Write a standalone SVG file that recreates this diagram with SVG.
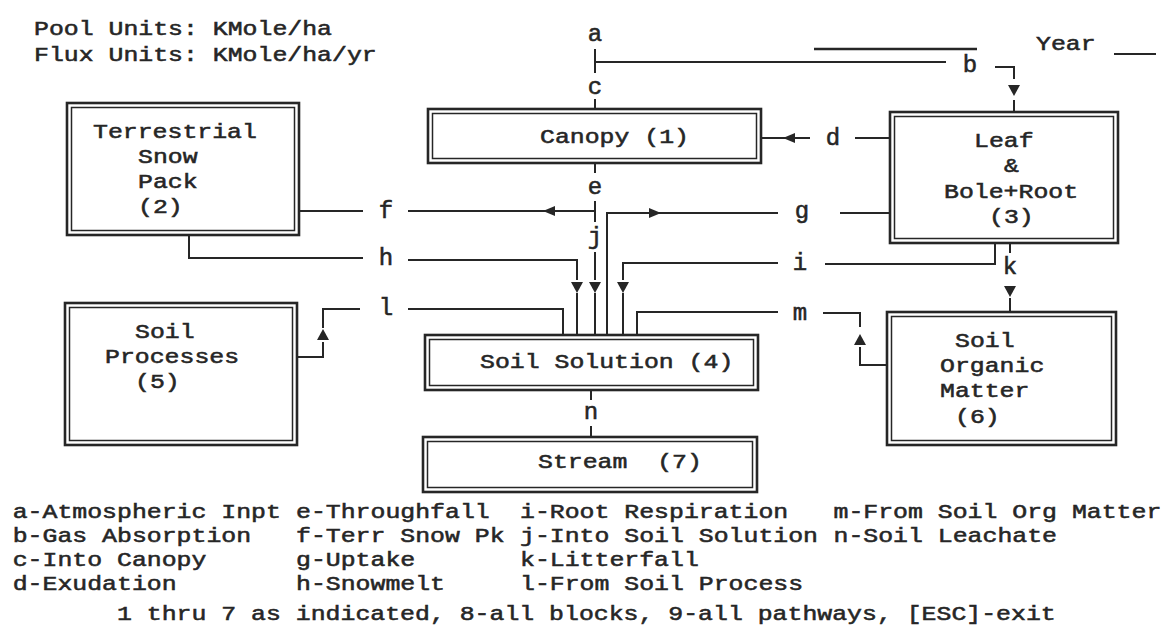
<svg xmlns="http://www.w3.org/2000/svg" width="1167" height="627" viewBox="0 0 1167 627">
<style>
  .t{font-family:"Liberation Mono","Courier New",monospace;font-size:21px;fill:#262626;stroke:#262626;stroke-width:0.55px}
  .m{text-anchor:middle;font-size:24px}
  .ob{fill:none;stroke:#262626;stroke-width:2.6}
  .ib{fill:none;stroke:#262626;stroke-width:1.5}
  .c{fill:none;stroke:#262626;stroke-width:2}
  .ar{fill:#262626}
</style>
<defs>
  <path id="aD" d="M-6,-5 L6,-5 L0,6 Z"/>
  <path id="aU" d="M-6,5 L6,5 L0,-6 Z"/>
  <path id="aL" d="M5,-5 L5,5 L-7,0 Z"/>
  <path id="aR" d="M-5,-5 L-5,5 L7,0 Z"/>
</defs>
<rect width="1167" height="627" fill="#fff"/>

<g id="header">
  <text class="t" x="34" y="35" textLength="298" lengthAdjust="spacingAndGlyphs">Pool Units: KMole/ha</text>
  <text class="t" x="34" y="61" textLength="342.7" lengthAdjust="spacingAndGlyphs">Flux Units: KMole/ha/yr</text>
  <path class="c" d="M814,49 H977" style="stroke-width:2.6"/>
  <text class="t" x="1036" y="50" textLength="59.6" lengthAdjust="spacingAndGlyphs">Year</text>
  <path class="c" d="M1114,54 H1156"/>
</g>

<g id="canopy">
  <rect class="ob" x="428" y="109" width="333" height="54"/>
  <rect class="ib" x="432.5" y="113.5" width="324" height="45"/>
  <text class="t" x="540" y="143" textLength="149" lengthAdjust="spacingAndGlyphs">Canopy (1)</text>
</g>

<g id="snowpack">
  <rect class="ob" x="67" y="103" width="232" height="132"/>
  <rect class="ib" x="71.5" y="107.5" width="223" height="123"/>
  <text class="t" x="93" y="138" textLength="163.9" lengthAdjust="spacingAndGlyphs">Terrestrial</text>
  <text class="t" x="138" y="163" textLength="59.6" lengthAdjust="spacingAndGlyphs">Snow</text>
  <text class="t" x="138" y="188" textLength="59.6" lengthAdjust="spacingAndGlyphs">Pack</text>
  <text class="t" x="138" y="213" textLength="44.7" lengthAdjust="spacingAndGlyphs">(2)</text>
</g>

<g id="leaf">
  <rect class="ob" x="890" y="112" width="228" height="131"/>
  <rect class="ib" x="894.5" y="116.5" width="219" height="122"/>
  <text class="t" x="974" y="147" textLength="59.6" lengthAdjust="spacingAndGlyphs">Leaf</text>
  <text class="t" x="1004" y="172" textLength="14.9" lengthAdjust="spacingAndGlyphs">&amp;</text>
  <text class="t" x="944" y="198" textLength="134.1" lengthAdjust="spacingAndGlyphs">Bole+Root</text>
  <text class="t" x="989" y="223" textLength="44.7" lengthAdjust="spacingAndGlyphs">(3)</text>
</g>

<g id="soilsolution">
  <rect class="ob" x="425" y="335" width="333" height="55"/>
  <rect class="ib" x="429.5" y="339.5" width="324" height="46"/>
  <text class="t" x="480" y="368" textLength="253.3" lengthAdjust="spacingAndGlyphs">Soil Solution (4)</text>
</g>

<g id="soilprocesses">
  <rect class="ob" x="65" y="303" width="232" height="142"/>
  <rect class="ib" x="69.5" y="307.5" width="223" height="133"/>
  <text class="t" x="135" y="338" textLength="59.6" lengthAdjust="spacingAndGlyphs">Soil</text>
  <text class="t" x="105" y="363" textLength="134.1" lengthAdjust="spacingAndGlyphs">Processes</text>
  <text class="t" x="135" y="388" textLength="44.7" lengthAdjust="spacingAndGlyphs">(5)</text>
</g>

<g id="som">
  <rect class="ob" x="887" y="312" width="229" height="133"/>
  <rect class="ib" x="891.5" y="316.5" width="220" height="124"/>
  <text class="t" x="955" y="347" textLength="59.6" lengthAdjust="spacingAndGlyphs">Soil</text>
  <text class="t" x="940" y="372" textLength="104.3" lengthAdjust="spacingAndGlyphs">Organic</text>
  <text class="t" x="940" y="397" textLength="89.4" lengthAdjust="spacingAndGlyphs">Matter</text>
  <text class="t" x="955" y="423" textLength="44.7" lengthAdjust="spacingAndGlyphs">(6)</text>
</g>

<g id="stream">
  <rect class="ob" x="423" y="437" width="334" height="55"/>
  <rect class="ib" x="427.5" y="441.5" width="325" height="46"/>
  <text class="t" x="538" y="468" textLength="163.9" lengthAdjust="spacingAndGlyphs" xml:space="preserve">Stream  (7)</text>
</g>

<g id="connectors">
  <!-- a, b, c -->
  <text class="t m" x="595" y="41">a</text>
  <path class="c" d="M595,49 V73"/>
  <path class="c" d="M595,62 H946"/>
  <text class="t m" x="970" y="72">b</text>
  <path class="c" d="M995,67 H1014 V79"/>
  <use href="#aD" class="ar" x="1014" y="90"/>
  <path class="c" d="M1014,100 V112"/>
  <text class="t m" x="595" y="94">c</text>
  <path class="c" d="M595,99 V109"/>
  <!-- d -->
  <path class="c" d="M761,138 H810"/>
  <use href="#aL" class="ar" x="790" y="138"/>
  <text class="t m" x="833" y="145">d</text>
  <path class="c" d="M855,138 H890"/>
  <!-- e -->
  <path class="c" d="M595,163 V173"/>
  <text class="t m" x="595" y="194">e</text>
  <path class="c" d="M595,201 V222"/>
  <!-- f -->
  <path class="c" d="M595,211 H408"/>
  <use href="#aL" class="ar" x="550" y="211"/>
  <text class="t m" x="386" y="218">f</text>
  <path class="c" d="M363,211 H299"/>
  <!-- j -->
  <text class="t m" x="595" y="244">j</text>
  <path class="c" d="M595,252 V280"/>
  <use href="#aD" class="ar" x="595" y="287"/>
  <path class="c" d="M595,293 V335"/>
  <!-- g -->
  <path class="c" d="M607,335 V213 H778"/>
  <use href="#aR" class="ar" x="654" y="213"/>
  <text class="t m" x="802" y="218">g</text>
  <path class="c" d="M840,213 H890"/>
  <!-- h -->
  <path class="c" d="M189,235 V258 H363"/>
  <text class="t m" x="386" y="265">h</text>
  <path class="c" d="M408,260 H577 V280"/>
  <use href="#aD" class="ar" x="577" y="287"/>
  <path class="c" d="M577,293 V335"/>
  <!-- i -->
  <path class="c" d="M623,335 V293"/>
  <use href="#aD" class="ar" x="623" y="287"/>
  <path class="c" d="M623,280 V263 H778"/>
  <text class="t m" x="800" y="270">i</text>
  <path class="c" d="M825,264 H995 V243"/>
  <!-- k -->
  <path class="c" d="M1010,243 V253"/>
  <text class="t m" x="1010" y="274">k</text>
  <use href="#aD" class="ar" x="1010" y="291"/>
  <path class="c" d="M1010,298 V312"/>
  <!-- l -->
  <path class="c" d="M563,335 V309 H408"/>
  <text class="t m" x="386" y="315">l</text>
  <path class="c" d="M360,309 H323 V328"/>
  <use href="#aU" class="ar" x="323" y="335"/>
  <path class="c" d="M323,342 V357 H297"/>
  <!-- m -->
  <path class="c" d="M637,335 V312 H778"/>
  <text class="t m" x="800" y="320">m</text>
  <path class="c" d="M823,313 H860 V327"/>
  <use href="#aU" class="ar" x="860" y="340"/>
  <path class="c" d="M860,347 V365 H887"/>
  <!-- n -->
  <path class="c" d="M591,390 V400"/>
  <text class="t m" x="591" y="419">n</text>
  <path class="c" d="M591,426 V437"/>
</g>

<g id="legend">
  <text class="t" x="12.7" y="518" textLength="268.2" lengthAdjust="spacingAndGlyphs">a-Atmospheric Inpt</text>
  <text class="t" x="296" y="518" textLength="193.7" lengthAdjust="spacingAndGlyphs">e-Throughfall</text>
  <text class="t" x="520" y="518" textLength="268.2" lengthAdjust="spacingAndGlyphs">i-Root Respiration</text>
  <text class="t" x="833.5" y="518" textLength="327.8" lengthAdjust="spacingAndGlyphs">m-From Soil Org Matter</text>
  <text class="t" x="12.7" y="542" textLength="238.4" lengthAdjust="spacingAndGlyphs">b-Gas Absorption</text>
  <text class="t" x="296" y="542" textLength="208.6" lengthAdjust="spacingAndGlyphs">f-Terr Snow Pk</text>
  <text class="t" x="520" y="542" textLength="298" lengthAdjust="spacingAndGlyphs">j-Into Soil Solution</text>
  <text class="t" x="833.5" y="542" textLength="223.5" lengthAdjust="spacingAndGlyphs">n-Soil Leachate</text>
  <text class="t" x="12.7" y="565.5" textLength="193.7" lengthAdjust="spacingAndGlyphs">c-Into Canopy</text>
  <text class="t" x="296" y="565.5" textLength="119.2" lengthAdjust="spacingAndGlyphs">g-Uptake</text>
  <text class="t" x="520" y="565.5" textLength="178.8" lengthAdjust="spacingAndGlyphs">k-Litterfall</text>
  <text class="t" x="12.7" y="589.5" textLength="163.9" lengthAdjust="spacingAndGlyphs">d-Exudation</text>
  <text class="t" x="296" y="589.5" textLength="149" lengthAdjust="spacingAndGlyphs">h-Snowmelt</text>
  <text class="t" x="520" y="589.5" textLength="283.1" lengthAdjust="spacingAndGlyphs">l-From Soil Process</text>
  <text class="t" x="117" y="620" textLength="938.7" lengthAdjust="spacingAndGlyphs">1 thru 7 as indicated, 8-all blocks, 9-all pathways, [ESC]-exit</text>
</g>
</svg>
